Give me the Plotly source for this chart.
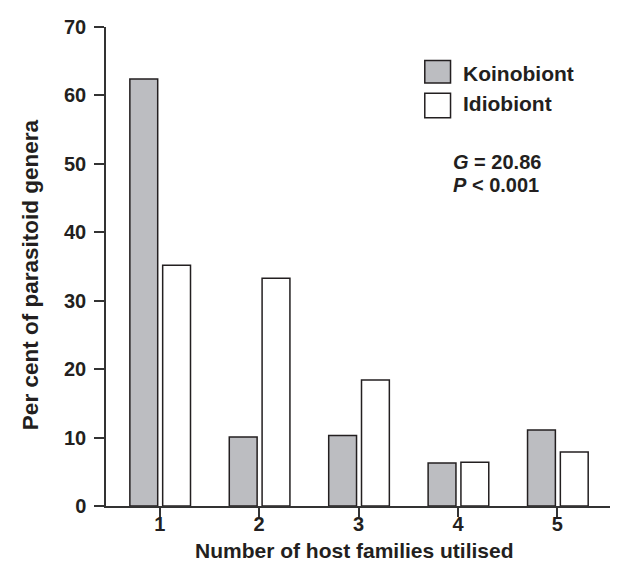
import plotly.graph_objects as go

categories = [1, 2, 3, 4, 5]
koinobiont = [62.4, 10.1, 10.3, 6.3, 11.1]
idiobiont = [35.2, 33.3, 18.4, 6.4, 7.9]
y_ticks = [0, 10, 20, 30, 40, 50, 60, 70]

FONT = "Liberation Sans, Arial, Helvetica, sans-serif"
TXT = "#231f20"
GRAY = "#bcbdc1"
EDGE = "#231f20"

fig = go.Figure()
fig.add_trace(go.Bar(
    x=categories, y=koinobiont, name="Koinobiont",
    offset=-0.30, width=0.28,
    marker=dict(color=GRAY, line=dict(color=EDGE, width=1.5)),
    showlegend=False,
))
fig.add_trace(go.Bar(
    x=categories, y=idiobiont, name="Idiobiont",
    offset=0.03, width=0.28,
    marker=dict(color="white", line=dict(color=EDGE, width=1.5)),
    showlegend=False,
))

# manual legend
legend_items = [("Koinobiont", GRAY, 0.930, 0.883, 0.9022),
                ("Idiobiont", "white", 0.8615, 0.8105, 0.8412)]
for label, col, y1, y0, yt in legend_items:
    fig.add_shape(type="rect", xref="paper", yref="paper",
                  x0=0.619, x1=0.669, y0=y0, y1=y1,
                  fillcolor=col, line=dict(color=EDGE, width=1.5))
    fig.add_annotation(text=f"<b>{label}</b>", xref="paper", yref="paper",
                       x=0.6887, y=yt, xanchor="left", yanchor="middle",
                       showarrow=False,
                       font=dict(family=FONT, size=21, color=TXT))

fig.add_annotation(text="<b><i>G</i> = 20.86</b>", xref="paper", yref="paper",
                   x=0.6705, y=0.7186, xanchor="left", yanchor="middle",
                   showarrow=False, font=dict(family=FONT, size=20, color=TXT))
fig.add_annotation(text="<b><i>P</i> &lt; 0.001</b>", xref="paper", yref="paper",
                   x=0.6705, y=0.6706, xanchor="left", yanchor="middle",
                   showarrow=False, font=dict(family=FONT, size=20, color=TXT))

# axis titles
fig.add_annotation(text="<b>Number of host families utilised</b>", xref="paper", yref="paper",
                   x=0.4816, y=-0.093, xanchor="center", yanchor="middle",
                   showarrow=False, font=dict(family=FONT, size=21, color=TXT))
fig.add_annotation(text="<b>Per cent of parasitoid genera</b>", xref="paper", yref="paper",
                   x=-0.1466, y=0.483, xanchor="center", yanchor="middle", textangle=-90,
                   showarrow=False, font=dict(family=FONT, size=22.5, color=TXT))

fig.update_layout(
    width=618, height=563,
    margin=dict(l=98, r=5, t=19, b=65),
    paper_bgcolor="white", plot_bgcolor="white",
    font=dict(family=FONT, size=20, color=TXT),
    barmode="overlay",
)
fig.update_xaxes(
    range=[0.46, 5.64], tickvals=categories, ticktext=[str(c) for c in categories],
    showline=True, linecolor="#333333", linewidth=1.5,
    ticks="outside", ticklen=9, tickwidth=1.5, tickcolor="#333333",
    showgrid=False, zeroline=False,
    tickfont=dict(size=20, weight="bold", color=TXT),
    ticklabelstandoff=-10,
)
fig.update_yaxes(
    range=[0, 70], tickvals=y_ticks, ticktext=[str(v) for v in y_ticks],
    showline=True, linecolor="#333333", linewidth=1.5,
    ticks="outside", ticklen=10, tickwidth=1.5, tickcolor="#333333",
    showgrid=False, zeroline=False,
    tickfont=dict(size=20, weight="bold", color=TXT),
    ticklabelstandoff=4,
)

fig.write_html("out.html")
